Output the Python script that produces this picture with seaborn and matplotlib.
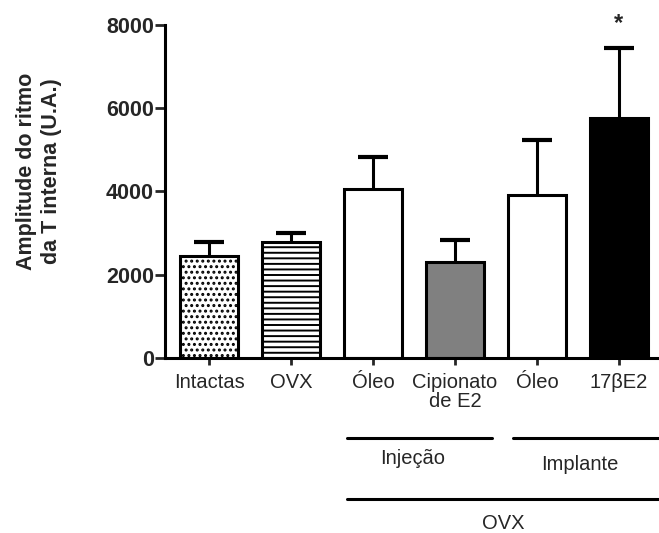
import numpy as np
import pandas as pd
import seaborn as sns
import matplotlib.pyplot as plt
import matplotlib.transforms as mtransforms

# dados
grupos = ['Intactas', 'OVX', 'Oleo inj', 'Cipionato de E2', 'Oleo impl', '17bE2']
rotulos = ['Intactas', 'OVX', 'Óleo', 'Cipionato\nde E2', 'Óleo', '17βE2']
medias = [2446, 2782, 4053, 2302, 3909, 5755]
epm = [344, 216, 767, 528, 1319, 1679]
cores = ['white', 'white', 'white', '#808080', 'white', 'black']
hachuras = ['...', '---', '', '', '', '']

sns.set_style('white')
plt.rcParams['font.family'] = ['Liberation Sans', 'DejaVu Sans']
plt.rcParams['hatch.linewidth'] = 1.4

df = pd.DataFrame({'grupo': grupos, 'media': medias})
df['topo'] = df['media'] + np.array(epm)

fig = plt.figure(figsize=(6.59, 5.33), dpi=100)
ax = fig.add_axes([0.2504, 0.3283, 0.7496, 0.6257])

sns.barplot(data=df, x='grupo', y='media', hue='grupo', palette=cores, legend=False,
            edgecolor='black', linewidth=2.2, width=0.7, errorbar=None, ax=ax)
for barra, h in zip(ax.patches, hachuras):
    barra.set_hatch(h)
    barra.set_zorder(2)

# so a metade de cima do erro padrao
xs = np.arange(len(grupos))
ax.vlines(xs, df['media'], df['topo'], color='black', lw=2.2, zorder=1)
ax.hlines(df['topo'], xs - 0.18, xs + 0.18, color='black', lw=3, zorder=1)

ax.text(5, 8030, '*', ha='center', va='center', fontsize=17, fontweight='bold')

ax.set_ylim(0, 8000)
ax.set_xlim(-0.537, 5.49)
ax.set_yticks([0, 2000, 4000, 6000, 8000])
ax.set_yticklabels(['0', '2000', '4000', '6000', '8000'], fontsize=15.5, fontweight='bold')
ax.set_xticks(xs)
ax.set_xticklabels(rotulos, fontsize=14.5, linespacing=1.0)
ax.set_xlabel('')
ax.set_ylabel('')
ax.tick_params(axis='y', direction='out', length=7, width=2, pad=1, left=True)
ax.tick_params(axis='x', direction='out', length=5, width=2, pad=6, bottom=True)
for s in ['top', 'right']:
    ax.spines[s].set_visible(False)
for s in ['left', 'bottom']:
    ax.spines[s].set_linewidth(2.2)
    ax.spines[s].set_color('black')
    ax.spines[s].set_zorder(3)

fig.text(0.059, 0.679, 'Amplitude do ritmo\nda T interna (U.A.)', rotation=90,
         ha='center', va='center', fontsize=15.5, fontweight='bold',
         multialignment='center', linespacing=1.25)

tr = mtransforms.blended_transform_factory(ax.transData, fig.transFigure)
ax.plot([1.68, 3.45], [0.178, 0.178], color='black', lw=2.2, transform=tr, clip_on=False)
ax.plot([3.71, 5.49], [0.178, 0.178], color='black', lw=2.2, transform=tr, clip_on=False)
ax.plot([1.68, 5.49], [0.064, 0.064], color='black', lw=2.2, transform=tr, clip_on=False)
ax.text(2.49, 0.139, 'Injeção', transform=tr, ha='center', va='center', fontsize=14.5)
ax.text(4.52, 0.129, 'Implante', transform=tr, ha='center', va='center', fontsize=14.5)
ax.text(3.59, 0.017, 'OVX', transform=tr, ha='center', va='center', fontsize=14.5)

fig.savefig('out.png', dpi=100)
